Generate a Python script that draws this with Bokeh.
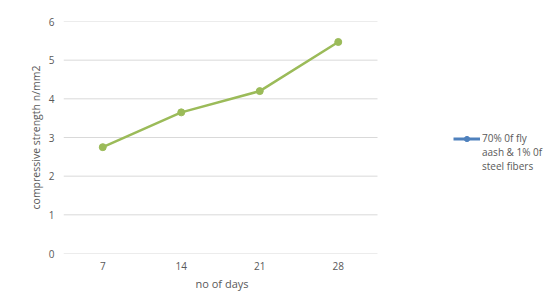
from bokeh.plotting import figure
from bokeh.models import Range1d, FixedTicker, Legend, LegendItem, Title
from bokeh.embed import file_html
from bokeh.resources import INLINE

days = ["7", "14", "21", "28"]
strength = [2.75, 3.65, 4.2, 5.47]
y_ticks = [0, 1, 2, 3, 4, 5, 6]
legend_lines = ["70% 0f fly", "aash & 1% 0f", "steel fibers"]
x_title = "no of days"
y_title = "compressive strength n/mm2"

FONT = "Open Sans"
TXT = "#595959"
GRID = "#d9d9d9"
NAN = float("nan")

n = len(days)
xpos = [i + 0.5 for i in range(n)]          # category centres
x_end = n * (560 - 63) / (377 - 63)          # frame continues under the legend area

p = figure(width=560, height=300, output_backend="svg", toolbar_location=None,
           x_range=Range1d(0, x_end), y_range=Range1d(0, 6),
           min_border_left=63, min_border_top=21, min_border_right=0, min_border_bottom=47)
p.outline_line_color = None
p.background_fill_color = "white"
p.border_fill_color = "white"

p.xgrid.grid_line_color = None
p.ygrid.grid_line_color = None

# horizontal gridlines across the category area only
p.segment(x0=0, x1=n, y0=y_ticks, y1=y_ticks, line_color=GRID, line_width=1)

p.yaxis.ticker = FixedTicker(ticks=y_ticks)
p.xaxis.ticker = FixedTicker(ticks=xpos)
p.xaxis.major_label_overrides = {x: d for x, d in zip(xpos, days)}
p.xaxis.bounds = (0, n)

for ax in (p.xaxis[0], p.yaxis[0]):
    ax.axis_line_color = None
    ax.major_tick_line_color = None
    ax.minor_tick_line_color = None
    ax.major_tick_out = 0
    ax.major_tick_in = 0
    ax.minor_tick_out = 0
    ax.minor_tick_in = 0
    ax.major_label_text_font = FONT
    ax.major_label_text_font_size = "10px"
    ax.major_label_text_color = TXT
    ax.axis_label_text_font = FONT
    ax.axis_label_text_font_size = "10.5px"
    ax.axis_label_text_color = TXT
    ax.axis_label_text_font_style = "normal"

p.yaxis.axis_label = y_title
p.yaxis.major_label_standoff = 9
p.yaxis.axis_label_standoff = 3
p.xaxis.major_label_standoff = 8

# x-axis title, centred under the category area
xt = Title(text=x_title, align="left", offset=132, standoff=2,
           text_font=FONT, text_font_size="11px", text_color=TXT, text_font_style="normal")
p.add_layout(xt, "below")

p.line(xpos, strength, line_color="#9BBB59", line_width=2.5)
p.scatter(xpos, strength, size=7, fill_color="#9BBB59", line_color="#9BBB59")

# legend glyphs (series keyed in blue); NaN data keeps them off the plot
lg_line = p.line([NAN], [NAN], line_color="#4F81BD", line_width=3)
lg_dot = p.scatter([NAN], [NAN], size=7, fill_color="#4F81BD", line_color="#4F81BD")
blank1 = p.line([NAN], [NAN], line_alpha=0)
blank2 = p.line([NAN], [NAN], line_alpha=0)

legend = Legend(items=[LegendItem(label=legend_lines[0], renderers=[lg_line, lg_dot]),
                       LegendItem(label=legend_lines[1], renderers=[blank1]),
                       LegendItem(label=legend_lines[2], renderers=[blank2])],
                location=(390, 80), padding=0, margin=0, spacing=0,
                glyph_width=27, glyph_height=13, label_height=13, label_standoff=2,
                label_text_font=FONT, label_text_font_size="10px", label_text_color=TXT,
                border_line_color=None, background_fill_alpha=0)
p.add_layout(legend, "center")

open("out.html", "w").write(file_html(p, INLINE))
